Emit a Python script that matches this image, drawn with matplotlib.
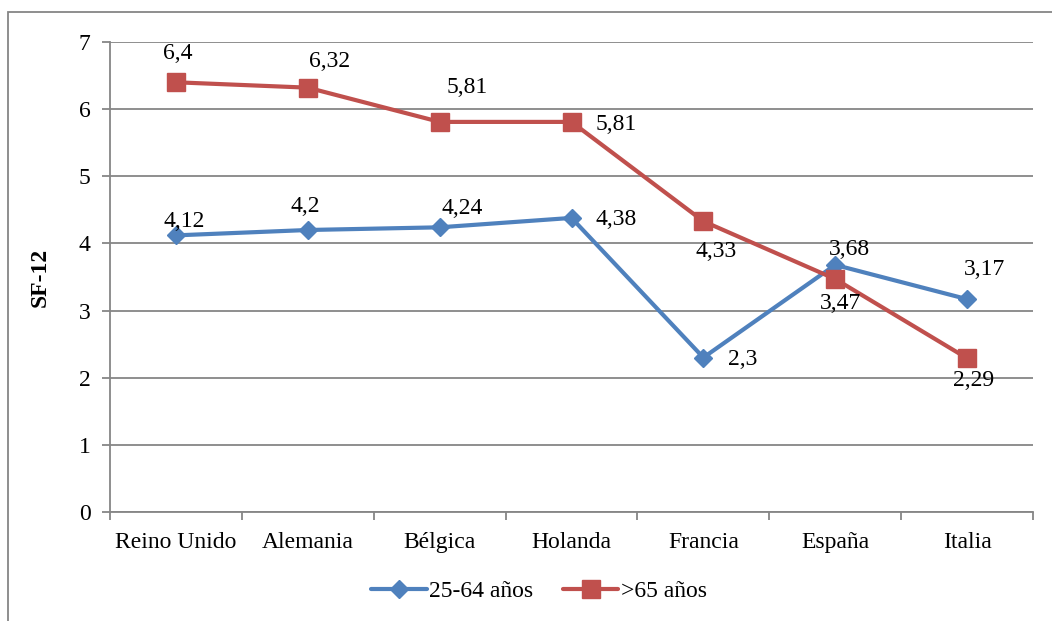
import matplotlib
matplotlib.use("Agg")
import matplotlib.pyplot as plt
from matplotlib.lines import Line2D
from matplotlib.patches import Rectangle

plt.rcParams['font.family'] = ['Liberation Serif', 'DejaVu Serif']

countries = ["Reino Unido", "Alemania", "Bélgica", "Holanda", "Francia", "España", "Italia"]
adults = [4.12, 4.20, 4.24, 4.38, 2.30, 3.68, 3.17]
seniors = [6.40, 6.32, 5.81, 5.81, 4.33, 3.47, 2.29]
series_names = ["25-64 años", ">65 años"]
yticks = [0, 1, 2, 3, 4, 5, 6, 7]

# label offsets in pixels (dx, dy) relative to each point
adult_offsets = [(8, 14), (-3, 24), (23, 19), (45, -2), (39, -2), (14, 15), (17, 30)]
senior_offsets = [(2, 29), (22, 26), (28, 34), (45, -3), (13, -30), (5, -24), (6, -22)]

W, H, DPI = 1052, 621, 100
FS = 17
fig = plt.figure(figsize=(W / DPI, H / DPI), dpi=DPI)
grey = "#868686"
blue = "#4F81BD"
red = "#C0504D"

# outer chart frame
fig.patches.append(Rectangle((8 / W, -0.1), 1.2, (H - 12) / H + 0.1, transform=fig.transFigure,
                             fill=False, edgecolor=grey, linewidth=1.3))

ax = fig.add_axes([110 / W, 1 - 512 / H, (1033 - 110) / W, (512 - 42) / H])
x = list(range(len(countries)))

LW = 3.0
ax.plot(x, adults, color=blue, lw=LW, marker="D", ms=9, solid_capstyle="round", zorder=3)
ax.plot(x, seniors, color=red, lw=LW, marker="s", ms=13, solid_capstyle="round", zorder=3)

ax.set_xlim(-0.5, len(countries) - 0.5)
ax.set_ylim(0, 7)
ax.set_yticks(yticks)
ax.set_yticklabels([str(t) for t in yticks], fontsize=FS)
ax.yaxis.grid(True, color=grey, lw=1.3)
ax.set_axisbelow(True)

ax.set_xticks(x)
ax.set_xticklabels(countries, fontsize=FS, va="baseline")
ax.tick_params(axis="x", length=0, pad=26)
ax.set_xticks([i - 0.5 for i in range(len(countries) + 1)], minor=True)
ax.tick_params(axis="x", which="minor", length=6, width=1.3, color=grey)
ax.tick_params(axis="y", length=6, width=1.3, color=grey, pad=8)

for side in ["top", "right"]:
    ax.spines[side].set_visible(False)
for side in ["left", "bottom"]:
    ax.spines[side].set_color(grey)
    ax.spines[side].set_linewidth(1.3)

ax.set_ylabel("SF-12", fontsize=FS, fontweight="bold", labelpad=20)

def fmt(v):
    s = f"{v:.2f}".rstrip("0").rstrip(".")
    return s.replace(".", ",")

px = 72 / DPI
for xi, v, (dx, dy) in zip(x, adults, adult_offsets):
    ax.annotate(fmt(v), (xi, v), xytext=(dx * px, dy * px), textcoords="offset points",
                ha="center", va="center", fontsize=FS)
for xi, v, (dx, dy) in zip(x, seniors, senior_offsets):
    ax.annotate(fmt(v), (xi, v), xytext=(dx * px, dy * px), textcoords="offset points",
                ha="center", va="center", fontsize=FS)

handles = [Line2D([], [], color=blue, lw=LW, marker="D", ms=9, solid_capstyle="round"),
           Line2D([], [], color=red, lw=LW, marker="s", ms=13, solid_capstyle="round")]
fig.legend(handles, series_names, loc="center", bbox_to_anchor=(539 / W, 1 - 591 / H),
           ncol=2, frameon=False, fontsize=FS, handlelength=2.35, handletextpad=0.1,
           columnspacing=1.25)

fig.savefig("out.png", dpi=DPI)
